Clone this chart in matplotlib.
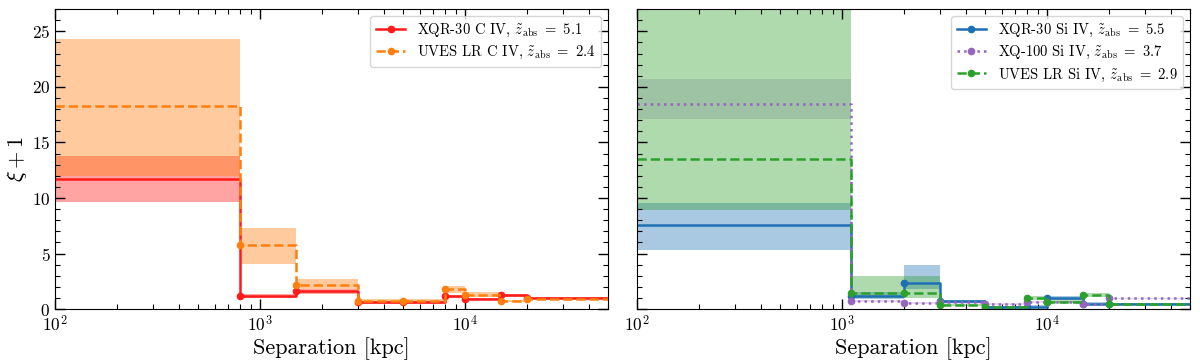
import numpy as np
import matplotlib
matplotlib.use("Agg")
import matplotlib.pyplot as plt

plt.rcParams['font.family'] = ['cmr10', 'DejaVu Serif']
plt.rcParams['mathtext.fontset'] = 'cm'
plt.rcParams['axes.formatter.use_mathtext'] = True
plt.rcParams['axes.unicode_minus'] = False

# ---- C IV (left panel) ----
civ_edges = [100, 800, 1500, 3000, 5000, 8000, 10000, 15000, 20000, 50000]

xqr_civ = [11.75, 1.2, 1.6, 0.6, 0.6, 1.15, 0.9, 1.25, 0.97]
xqr_civ_lo = [9.65, 1.0, 1.4, 0.5, 0.5, 1.0, 0.8, 1.1, 0.9]
xqr_civ_hi = [13.8, 1.4, 1.8, 0.7, 0.7, 1.3, 1.0, 1.4, 1.05]

uves_civ = [18.3, 5.8, 2.2, 0.75, 0.75, 1.77, 1.3, 0.72, 0.95]
uves_civ_lo = [11.95, 4.1, 1.8, 0.6, 0.6, 1.45, 1.1, 0.6, 0.88]
uves_civ_hi = [24.35, 7.3, 2.7, 0.9, 0.9, 2.1, 1.5, 0.85, 1.02]

# ---- Si IV (right panel) ----
siiv_edges = [100, 1100, 2000, 3000, 5000, 8000, 10000, 15000, 20000, 50000]

xqr_siiv = [7.6, 1.2, 2.38, 0.7, 0.15, 0.2, 1.0, 0.5, 0.5]
xqr_siiv_lo = [5.33, 0.9, 1.8, 0.55, 0.05, 0.1, 0.85, 0.4, 0.45]
xqr_siiv_hi = [9.55, 1.5, 3.98, 0.85, 0.3, 0.35, 1.15, 0.6, 0.55]

xq100_siiv = [18.5, 0.75, 0.55, 0.6, 0.45, 0.65, 0.65, 0.45, 0.97]
xq100_siiv_lo = [17.1, 0.65, 0.45, 0.5, 0.35, 0.55, 0.55, 0.35, 0.92]
xq100_siiv_hi = [20.7, 0.85, 0.65, 0.7, 0.55, 0.75, 0.75, 0.55, 1.02]

uves_siiv = [13.5, 1.45, 1.45, 0.38, 0.15, 1.02, 0.66, 1.25, 0.5]
uves_siiv_lo = [8.95, 1.0, 1.0, 0.3, 0.1, 0.85, 0.55, 1.05, 0.45]
uves_siiv_hi = [30.0, 3.0, 3.0, 0.5, 0.25, 1.2, 0.8, 1.45, 0.55]


def step_plot(ax, edges, val, lo, hi, color, ls, label, alpha):
    x = np.array(edges)
    y = np.append(val, val[-1])
    ax.fill_between(x, np.append(lo, lo[-1]), np.append(hi, hi[-1]),
                    step='post', color=color, alpha=alpha, lw=0)
    ax.plot(x, y, drawstyle='steps-post', color=color, ls=ls, lw=1.8,
            marker='o', ms=4.5, markevery=slice(1, len(val)), label=label)


fig, (ax1, ax2) = plt.subplots(1, 2, figsize=(12, 3.62), dpi=100, sharey=True)
fig.subplots_adjust(left=0.046, right=0.992, bottom=0.146, top=0.975, wspace=0.052)

step_plot(ax1, civ_edges, xqr_civ, xqr_civ_lo, xqr_civ_hi, '#ff1a1a', '-',
          r'XQR-30 C IV, $\tilde{z}_{\rm abs}\ =\ 5.1$', 0.4)
step_plot(ax1, civ_edges, uves_civ, uves_civ_lo, uves_civ_hi, '#ff7f0e', '--',
          r'UVES LR C IV, $\tilde{z}_{\rm abs}\ =\ 2.4$', 0.4)

step_plot(ax2, siiv_edges, xqr_siiv, xqr_siiv_lo, xqr_siiv_hi, '#1f6fb4', '-',
          r'XQR-30 Si IV, $\tilde{z}_{\rm abs}\ =\ 5.5$', 0.38)
step_plot(ax2, siiv_edges, xq100_siiv, xq100_siiv_lo, xq100_siiv_hi, '#9467bd', ':',
          r'XQ-100 Si IV, $\tilde{z}_{\rm abs}\ =\ 3.7$', 0.25)
step_plot(ax2, siiv_edges, uves_siiv, uves_siiv_lo, uves_siiv_hi, '#2ca02c', '--',
          r'UVES LR Si IV, $\tilde{z}_{\rm abs}\ =\ 2.9$', 0.38)

for ax in (ax1, ax2):
    ax.set_xscale('log')
    ax.set_xlim(100, 5e4)
    ax.set_ylim(0, 27)
    ax.set_yticks([0, 5, 10, 15, 20, 25])
    ax.yaxis.set_minor_locator(matplotlib.ticker.MultipleLocator(1))
    ax.tick_params(which='both', direction='in', top=True, right=True, labelsize=12.5)
    ax.tick_params(which='major', length=7, width=1)
    ax.tick_params(which='minor', length=3.5, width=0.8)
    ax.set_xlabel('Separation [kpc]', fontsize=16, labelpad=2)
    ax.legend(loc='upper right', fontsize=10.5, handlelength=2.0, borderpad=0.4,
              labelspacing=0.35, framealpha=0.8)
ax1.set_ylabel(r'$\xi + 1$', fontsize=16, labelpad=2)
ax2.tick_params(labelleft=False)

fig.savefig('out.png', dpi=100)
